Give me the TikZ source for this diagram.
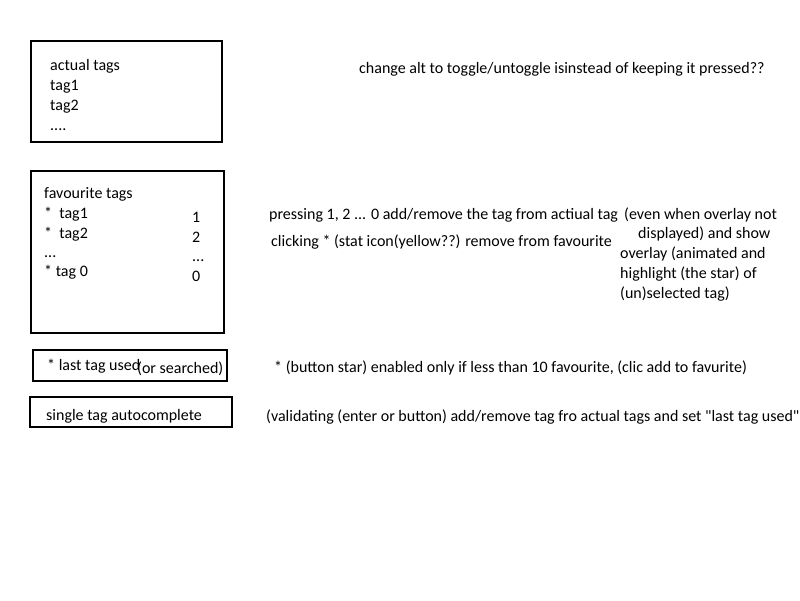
\documentclass[tikz,border=0pt]{standalone}
\usepackage{fontspec}
\setmainfont{Carlito}[Ligatures=TeXOff]
\begin{document}
\begin{tikzpicture}[x=1pt,y=-1pt,
  box/.style={draw=black,line width=2pt},
  txt/.style={anchor=base west,inner sep=0pt,font=\fontsize{16}{19}\selectfont}]
\useasboundingbox (0,0) rectangle (800,600);
% boxes
\draw[box] (31,41) rectangle (222,142);
\draw[box] (31,171) rectangle (224,333);
\draw[box] (33,350) rectangle (227,381);
\draw[box] (30,397) rectangle (232,427);
% box 1
\node[txt] (a1) at (50,70) {actual tags};
\node[txt] (a2) at (50,90) {tag1};
\node[txt] (a3) at (50,110) {tag2};
\node[txt] (a4) at (50,130) {....};
% box 2
\node[txt] (f1) at (44,198) {favourite tags};
\node[txt] (f2) at (44,218) {*\ \ tag1};
\node[txt] (f3) at (44,238) {*\ \ tag2};
\node[txt] (f4) at (44,257) {...};
\node[txt] (f5) at (44,276) {* tag 0};
\node[txt] (n1) at (192,222) {1};
\node[txt] (n2) at (192,242) {2};
\node[txt] (n3) at (192,261) {...};
\node[txt] (n4) at (192,281) {0};
% box 3
\node[txt] (l1) at (47,370) {* last tag used};
\node[txt] (l2) at (137,373) {(or searched)};
% box 4
\node[txt] (s1) at (46,420) {single tag autocomplete};
% notes
\node[txt] (c1) at (359,73) {change alt to toggle/untoggle isinstead of keeping it pressed??};
\node[txt] (p1) at (269,219) {pressing 1, 2 ... 0 add/remove the tag from actiual tag};
\node[txt] (p2) at (271,246) {clicking * (stat icon(yellow??) remove from favourite};
\node[txt] (e1) at (624,219) {(even when overlay not};
\node[txt] (e2) at (638,238) {displayed) and show};
\node[txt] (e3) at (620,258) {overlay (animated and};
\node[txt] (e4) at (620,278) {highlight (the star) of};
\node[txt] (e5) at (620,298) {(un)selected tag)};
\node[txt] (b1) at (274,372) {* (button star) enabled only if less than 10 favourite, (clic add to favurite)};
\node[txt] (v1) at (266,421) {(validating (enter or button) add/remove tag fro actual tags and set "last tag used"};
\end{tikzpicture}
\end{document}
